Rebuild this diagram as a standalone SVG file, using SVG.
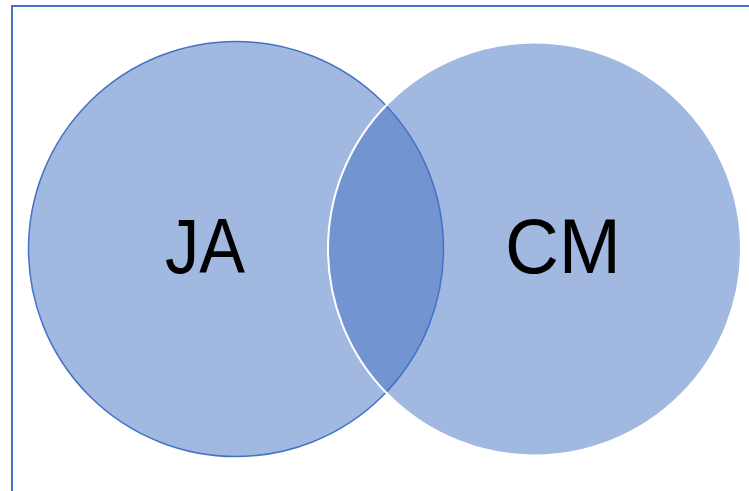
<svg xmlns="http://www.w3.org/2000/svg" width="749" height="491" viewBox="0 0 749 491">
<style>
.lbl{font-family:"Liberation Sans",Arial,sans-serif;font-size:78px;fill:#000;}
</style>
<rect width="749" height="491" fill="#fff"/>
<path d="M12 491 V6 H749" fill="none" stroke="#4472C4" stroke-width="2"/>
<g id="ja">
<circle cx="236" cy="249" r="207.5" fill="#4472C4" fill-opacity="0.5" stroke="#4472C4" stroke-width="1.5"/>
<text class="lbl" x="205" y="273" text-anchor="middle" textLength="80" lengthAdjust="spacingAndGlyphs">JA</text>
</g>
<g id="cm">
<circle cx="534.5" cy="249" r="206.5" fill="#4472C4" fill-opacity="0.5" stroke="#fff" stroke-width="2"/>
<text class="lbl" x="563" y="273" text-anchor="middle" textLength="116" lengthAdjust="spacingAndGlyphs">CM</text>
</g>
</svg>
